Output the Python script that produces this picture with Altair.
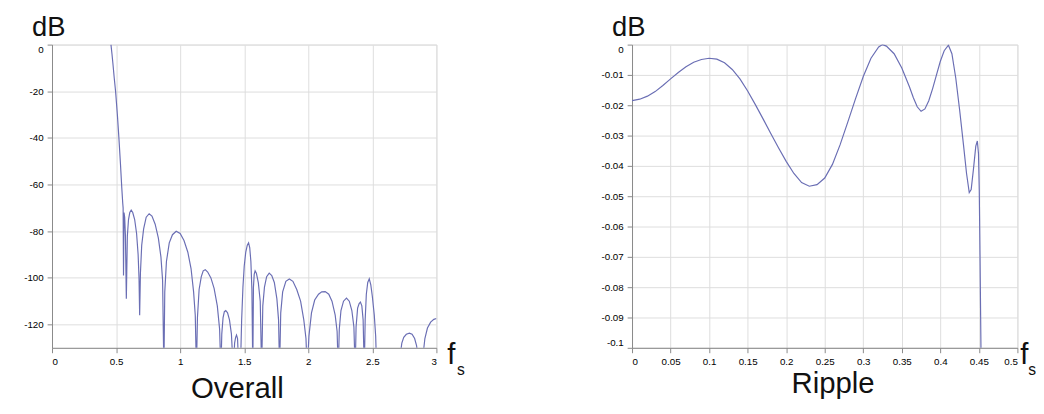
import altair as alt
import pandas as pd

# ---------------- data ----------------
# Overall response: (frequency / fs, dB); values below -130 dB lie outside the axis
overall_pts = [
    (0.460, 0.0), (0.468, -4.0), (0.475, -8.0), (0.485, -14.0), (0.496, -20.0),
    (0.510, -30.0), (0.522, -40.0), (0.534, -51.0), (0.544, -61.0), (0.552, -68.0),
    (0.555, -70.0), (0.558, -99.0), (0.562, -72.0), (0.567, -74.0), (0.573, -82.0),
    (0.580, -109.0), (0.588, -82.0), (0.597, -75.0), (0.607, -72.0), (0.618, -71.0),
    (0.630, -72.0), (0.645, -75.0), (0.660, -81.0), (0.672, -90.0), (0.679, -100.0),
    (0.684, -116.0), (0.690, -98.0), (0.700, -86.0), (0.715, -79.0), (0.735, -74.0),
    (0.758, -72.5), (0.780, -73.5), (0.805, -77.0), (0.830, -83.0), (0.850, -91.0),
    (0.863, -101.0), (0.873, -140.0), (0.880, -106.0), (0.893, -93.0), (0.915, -85.0),
    (0.940, -81.5), (0.969, -80.0), (1.000, -81.0), (1.030, -84.0), (1.060, -89.0),
    (1.085, -96.0), (1.105, -106.0), (1.118, -116.0), (1.127, -140.0), (1.135, -117.0),
    (1.148, -105.0), (1.165, -99.5), (1.180, -97.0), (1.196, -96.5), (1.215, -97.5),
    (1.240, -100.0), (1.265, -104.5), (1.290, -112.0), (1.308, -122.0), (1.318, -140.0),
    (1.325, -124.0), (1.335, -117.0), (1.345, -114.5), (1.356, -114.0), (1.370, -115.0),
    (1.385, -118.0), (1.400, -124.0), (1.415, -140.0), (1.425, -128.0), (1.433, -125.5),
    (1.440, -124.5), (1.448, -126.0), (1.458, -140.0), (1.470, -140.0), (1.480, -118.0),
    (1.490, -104.0), (1.500, -95.0), (1.512, -89.0), (1.524, -86.0), (1.534, -85.0),
    (1.543, -87.0), (1.552, -93.0), (1.560, -105.0), (1.567, -140.0), (1.572, -104.0),
    (1.578, -98.5), (1.585, -97.0), (1.595, -98.0), (1.610, -102.0), (1.625, -110.0),
    (1.636, -140.0), (1.645, -112.0), (1.658, -104.0), (1.675, -99.5), (1.695, -98.0),
    (1.715, -99.0), (1.735, -102.0), (1.755, -109.0), (1.768, -118.0), (1.776, -140.0),
    (1.785, -115.0), (1.800, -106.0), (1.825, -101.5), (1.852, -100.5), (1.880, -101.5),
    (1.910, -105.0), (1.940, -110.0), (1.965, -118.0), (1.982, -126.0), (1.992, -140.0),
    (2.005, -125.0), (2.025, -115.0), (2.050, -109.5), (2.080, -107.0), (2.105, -106.0),
    (2.132, -105.9), (2.160, -107.0), (2.185, -110.0), (2.210, -116.0), (2.225, -123.0),
    (2.234, -140.0), (2.242, -122.0), (2.255, -114.0), (2.275, -110.0), (2.298, -108.7),
    (2.320, -110.0), (2.340, -114.0), (2.356, -121.0), (2.366, -140.0), (2.373, -121.0),
    (2.385, -113.0), (2.397, -111.0), (2.407, -110.4), (2.418, -112.0), (2.428, -118.0),
    (2.437, -140.0), (2.444, -118.0), (2.453, -107.0), (2.464, -102.0), (2.476, -100.4),
    (2.488, -103.0), (2.500, -108.0), (2.515, -116.0), (2.526, -125.0), (2.534, -140.0),
    (2.600, -145.0), (2.700, -140.0), (2.718, -133.0), (2.730, -128.0), (2.745, -125.5),
    (2.765, -124.2), (2.789, -123.7), (2.810, -124.2), (2.830, -126.0), (2.845, -129.0),
    (2.857, -134.0), (2.876, -145.0), (2.896, -133.0), (2.910, -126.0), (2.930, -121.5),
    (2.955, -119.0), (2.980, -117.8), (3.000, -117.4),
]

# Passband ripple: (frequency / fs, dB)
ripple_pts = [
    (0.000, -0.0185), (0.010, -0.0180), (0.020, -0.0170), (0.030, -0.0155), (0.040, -0.0135),
    (0.050, -0.0113), (0.060, -0.0092), (0.070, -0.0073), (0.080, -0.0058), (0.090, -0.0049),
    (0.100, -0.0045), (0.110, -0.0048), (0.120, -0.0060), (0.130, -0.0082), (0.140, -0.0113),
    (0.150, -0.0153), (0.160, -0.0198), (0.170, -0.0245), (0.180, -0.0293), (0.190, -0.0340),
    (0.200, -0.0385), (0.210, -0.0425), (0.220, -0.0455), (0.230, -0.0467), (0.240, -0.0462),
    (0.250, -0.0440), (0.260, -0.0395), (0.270, -0.0330), (0.280, -0.0255), (0.290, -0.0178),
    (0.300, -0.0105), (0.310, -0.0045), (0.320, -0.0008), (0.325, 0.0000), (0.330, -0.0005),
    (0.340, -0.0030), (0.350, -0.0077), (0.360, -0.0140), (0.365, -0.0175), (0.370, -0.0205),
    (0.375, -0.0220), (0.380, -0.0212), (0.385, -0.0185), (0.390, -0.0145), (0.395, -0.0100),
    (0.400, -0.0055), (0.405, -0.0020), (0.4105, -0.0002), (0.415, -0.0030), (0.420, -0.0110),
    (0.425, -0.0215), (0.430, -0.0330), (0.434, -0.0425), (0.4375, -0.0488), (0.440, -0.0478),
    (0.443, -0.0410), (0.446, -0.0335), (0.448, -0.0318), (0.4495, -0.0360), (0.4505, -0.0480),
    (0.4515, -0.0700), (0.4525, -0.0950), (0.4535, -0.1200),
]

overall_xticks = [0, 0.5, 1, 1.5, 2, 2.5, 3]
overall_yticks = [0, -20, -40, -60, -80, -100, -120]
ripple_xticks = [0, 0.05, 0.1, 0.15, 0.2, 0.25, 0.3, 0.35, 0.4, 0.45, 0.5]
ripple_yticks = [0, -0.01, -0.02, -0.03, -0.04, -0.05, -0.06, -0.07, -0.08, -0.09, -0.1]

LINE = "#6a6eb4"
FONT = "Liberation Sans"
ONE = pd.DataFrame({"k": [0]})


def panel(pts, xdom, ydom, xt, yt, w, h, title, title_x, title_y, fx, sx):
    df = pd.DataFrame(pts, columns=["f", "db"])
    line = alt.Chart(df).mark_line(clip=True, color=LINE, strokeWidth=1.2).encode(
        x=alt.X("f:Q",
                scale=alt.Scale(domain=xdom, nice=False, zero=False),
                axis=alt.Axis(values=xt, labelExpr="'' + datum.value", title=title,
                              titleFontSize=30, titleFont=FONT, titleFontWeight="normal",
                              titleColor="#111", titleX=title_x, titleY=title_y,
                              titleAlign="center", titleBaseline="alphabetic",
                              labelPadding=4)),
        y=alt.Y("db:Q",
                scale=alt.Scale(domain=ydom, nice=False, zero=False),
                axis=alt.Axis(values=yt, labelExpr="'' + datum.value", title="dB",
                              titleAngle=0, titleX=-21, titleY=-9, titleAlign="left",
                              titleBaseline="alphabetic", titleFontSize=28, titleFont=FONT,
                              titleFontWeight="normal", titleColor="#111", labelPadding=4,
                              labelFlush=True)),
    )
    f_txt = alt.Chart(ONE).mark_text(text="f", fontSize=30, font=FONT, color="#111",
                                     align="left", baseline="alphabetic").encode(
        x=alt.value(w + fx), y=alt.value(h + 17))
    s_txt = alt.Chart(ONE).mark_text(text="s", fontSize=16, font=FONT, color="#111",
                                     align="left", baseline="alphabetic").encode(
        x=alt.value(w + sx), y=alt.value(h + 28))
    return alt.layer(line, f_txt, s_txt).properties(width=w, height=h)


left = panel(overall_pts, [0, 3], [-130, 0], overall_xticks, overall_yticks,
             393, 310, "Overall", 189, 51, 11, 21)
right = panel(ripple_pts, [0, 0.5], [-0.1, 0], ripple_xticks, ripple_yticks,
              394, 310, "Ripple", 205, 46, 3, 11)

chart = alt.hconcat(left, right, spacing=137).properties(
    padding={"left": 15, "top": 1, "right": -1, "bottom": -5}
).configure_view(stroke="#555", strokeWidth=1).configure_axis(
    domain=False, ticks=False, grid=True, gridColor="#c6c6c6", gridDash=[3, 2],
    gridWidth=1, labelFont=FONT, labelFontSize=7, labelColor="#444"
).configure(background="white")

chart.save("out.html", embed_options={"renderer": "svg", "actions": False})
